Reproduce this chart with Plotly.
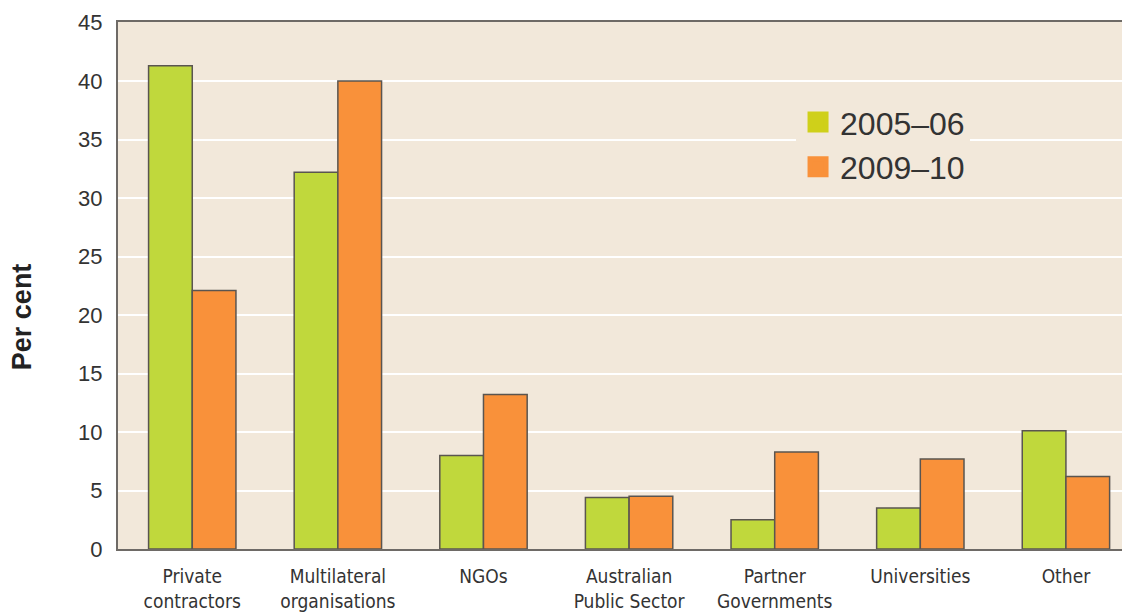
import plotly.graph_objects as go

categories = ["Private<br>contractors", "Multilateral<br>organisations", "NGOs",
              "Australian<br>Public Sector", "Partner<br>Governments", "Universities", "Other"]
series_names = ["2005\u201306", "2009\u201310"]
values_2005 = [41.3, 32.2, 8.0, 4.4, 2.5, 3.5, 10.1]
values_2009 = [22.1, 40.0, 13.2, 4.5, 8.3, 7.7, 6.2]
y_ticks = [0, 5, 10, 15, 20, 25, 30, 35, 40, 45]

bar_colors = ["#c0d83c", "#f9913a"]
legend_colors = ["#cfd01a", "#f9913a"]
outline = "#5a5550"

fig = go.Figure()
for name, vals, col in zip(series_names, [values_2005, values_2009], bar_colors):
    fig.add_trace(go.Bar(x=categories, y=vals, name=name, showlegend=False,
                         marker=dict(color=col, line=dict(color=outline, width=1.5))))
for name, col in zip(series_names, legend_colors):
    fig.add_trace(go.Scatter(x=[None], y=[None], mode="markers", name=name,
                             marker=dict(symbol="square", size=26, color=col,
                                         line=dict(color=col, width=5))))

fig.add_annotation(text="<b>Per cent</b>", xref="paper", yref="paper",
                   x=-0.0949, y=0.4417, xanchor="center", yanchor="middle",
                   textangle=-90, showarrow=False,
                   font=dict(size=27, color="#222222"))

fig.update_layout(
    width=1122, height=604,
    margin=dict(l=110, r=0, t=13.5, b=56.5),
    paper_bgcolor="white", plot_bgcolor="#f2e8da",
    barmode="group", bargap=0.4, bargroupgap=0,
    font=dict(family="Liberation Sans, Arial, sans-serif", color="#333333"),
    legend=dict(x=0.67, y=0.862, xanchor="left", yanchor="top",
                bgcolor="#f2e8da", font=dict(size=32, color="#333333"),
                itemsizing="trace", tracegroupgap=0, itemwidth=34,
                traceorder="normal"),
    xaxis=dict(range=[-0.51, 6.44], showgrid=False, showline=True, mirror=True,
               linecolor="#6e6a66", linewidth=2, ticks="outside", ticklen=9,
               tickcolor="rgba(0,0,0,0)",
               tickfont=dict(family="Liberation Sans Narrow, DejaVu Sans Condensed, sans-serif",
                             size=19, color="#333333")),
    yaxis=dict(range=[0, 45.05], tickvals=y_ticks, showgrid=True, gridcolor="white",
               gridwidth=2, showline=True, linecolor="#6e6a66", linewidth=2,
               ticks="outside", ticklen=9, tickcolor="rgba(0,0,0,0)",
               tickfont=dict(size=22, color="#333333"), zeroline=False),
)

fig.write_html("out.html")
